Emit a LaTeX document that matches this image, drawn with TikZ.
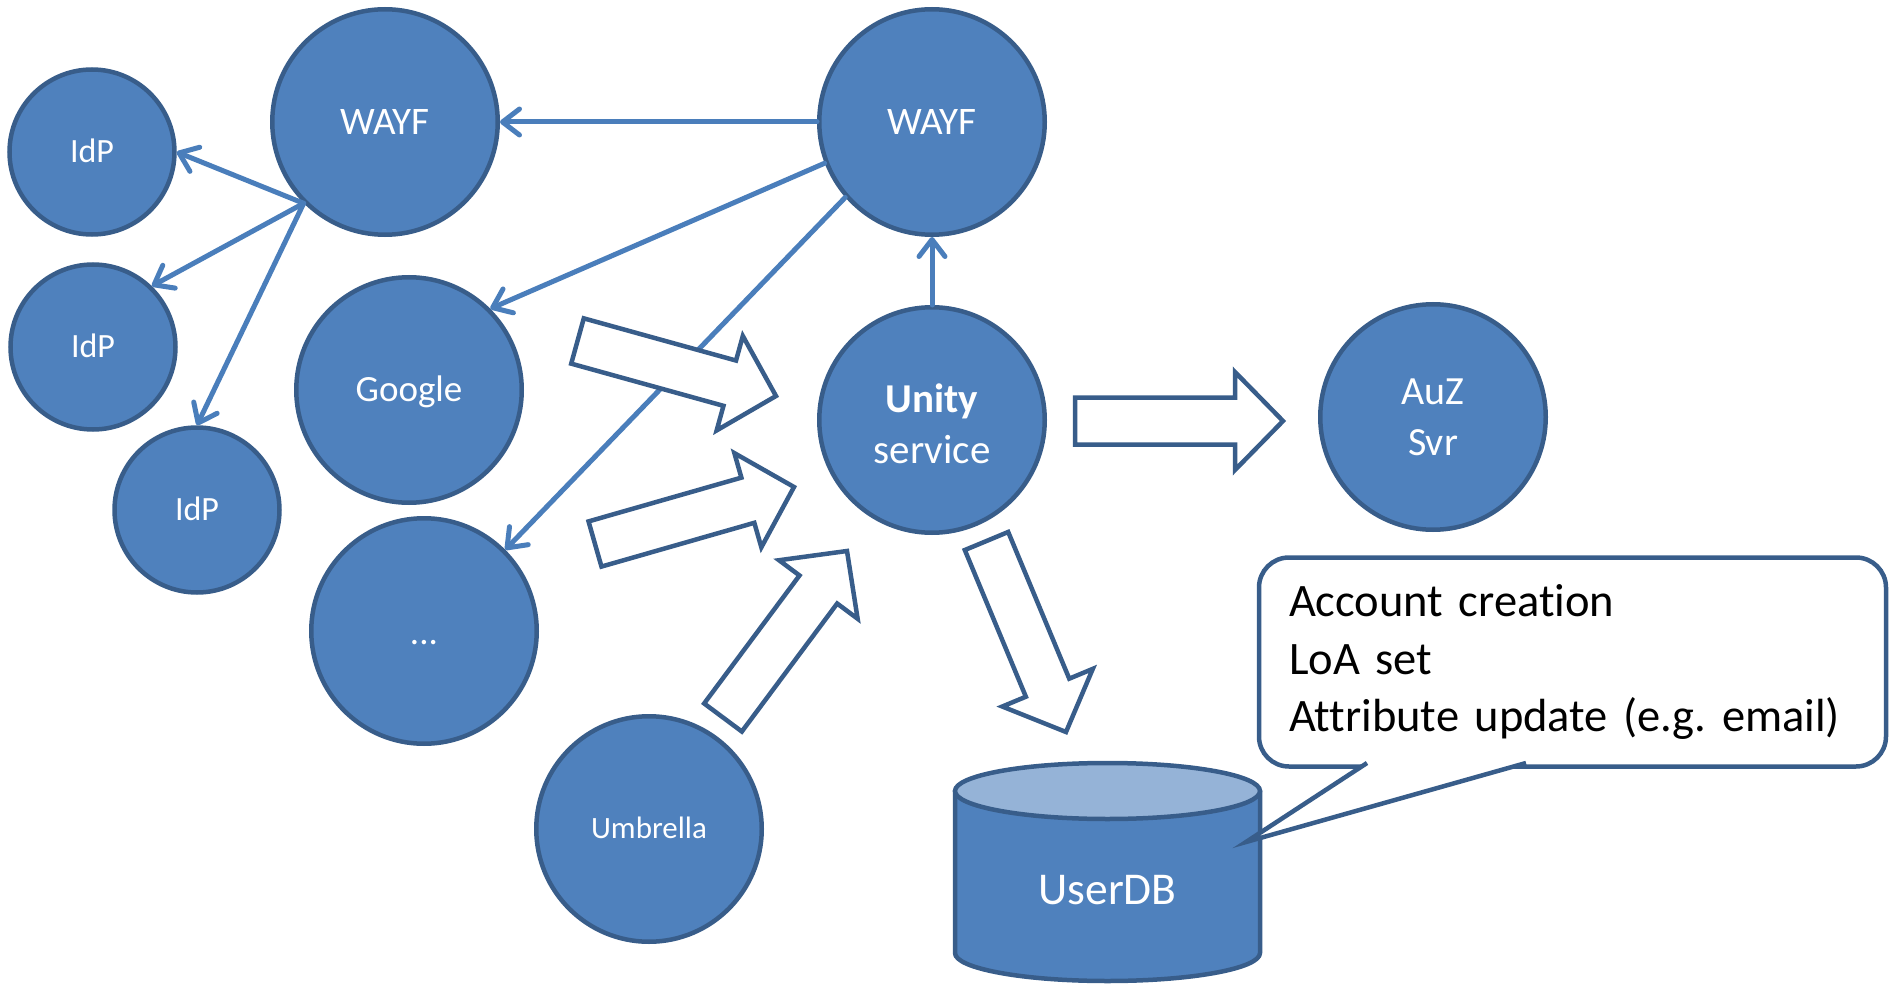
\documentclass[tikz,border=0pt]{standalone}
\usepackage{fontspec}
\setmainfont{Carlito}[Ligatures=NoCommon]
\usetikzlibrary{calc,arrows.meta}
\frenchspacing

\definecolor{nodefill}{HTML}{4F81BD}
\definecolor{nodeline}{HTML}{385D8A}
\definecolor{linkblue}{HTML}{4A7EBB}
\definecolor{dbtop}{HTML}{95B3D7}

\tikzset{
  entity/.style={circle, fill=nodefill, draw=nodeline, line width=4.5pt,
    inner sep=0pt, text=white},
  big/.style={minimum size=225.5pt},
  small/.style={minimum size=165pt},
  % single-line label whose capitals are centred on the node
  capline/.style={font={\fontsize{#1}{#1}\selectfont},
    text height=0.644*#1pt, text depth=0pt},
  link/.style={draw=linkblue, line width=5pt, line cap=round,
    -{Straight Barb[length=17pt,width=26pt,round]}},
  blockarrow/.style={draw=nodeline, fill=white, line width=4.5pt},
  callout/.style={rectangle, rounded corners=30pt, draw=nodeline, fill=white,
    line width=4.5pt, minimum width=627pt, minimum height=209pt,
    text width=567pt, inner xsep=30pt, align=left,
    font={\fontsize{46.5}{57.5}\selectfont}},
}

% hollow block arrow from tail #2 to tip #3
\newcommand\BlockArrow[3]{%
  \path ($(#3)!48pt!(#2)$) coordinate (#1-base);
  \draw[blockarrow]
    ($(#2)!23.5pt!90:(#3)$) -- ($(#1-base)!23.5pt!90:(#3)$)
    -- ($(#1-base)!49pt!90:(#3)$) -- (#3)
    -- ($(#1-base)!49pt!-90:(#3)$) -- ($(#1-base)!23.5pt!-90:(#3)$)
    -- ($(#2)!23.5pt!-90:(#3)$) -- cycle;
}

\begin{document}
\begin{tikzpicture}[x=1pt, y=-1pt]
\useasboundingbox (0,0) rectangle (1891,987);

% identity providers and discovery services
\node[entity, small, capline=34] (idp1) at (92,152) {IdP};
\node[entity, small, capline=34] (idp2) at (93,347) {IdP};
\node[entity, small, capline=34] (idp3) at (197,510) {IdP};
\node[entity, big, capline=39] (wayfL) at (385,122) {WAYF};
\node[entity, big, capline=39] (wayfR) at (932,122) {WAYF};
\node[entity, big, capline=37] (google) at (409,390) {Google};
\node[entity, big, capline=37, text height=27pt] (more) at (424,631) {...};
\node[entity, big, capline=31] (umbrella) at (649,829) {Umbrella};
\node[entity, big, align=center, font={\fontsize{41}{51}\selectfont}] (unity) at (932,420)
  {\rule{0pt}{36pt}\textbf{Unity}\\service};
\node[entity, big, align=center, font={\fontsize{40}{51}\selectfont}] (auz) at (1433,417) {AuZ\\Svr};

% redirections
\draw[link] (wayfR.west) -- (wayfL.east);
\draw[link] (wayfR.201) -- (google.45);
\draw[link] (wayfR.221) -- (more.45);
\draw[link] (wayfL.225) -- (idp1.east);
\draw[link] (wayfL.225) -- (idp2.46);
\draw[link] (wayfL.225) -- (idp3.north);
\draw[link] (unity.north) -- (wayfR.south);

% data flows into and out of the service
\coordinate (a1t) at (577.5,341);  \coordinate (a1h) at (776,396);
\coordinate (a2t) at (595,544);    \coordinate (a2h) at (794,487);
\coordinate (a3t) at (723,717.5);  \coordinate (a3h) at (847,551);
\coordinate (a4t) at (986.5,541);  \coordinate (a4h) at (1066,732);
\coordinate (a5t) at (1075,421);   \coordinate (a5h) at (1283,421);
\BlockArrow{a1}{a1t}{a1h}
\BlockArrow{a2}{a2t}{a2h}
\BlockArrow{a3}{a3t}{a3h}
\BlockArrow{a4}{a4t}{a4h}
\BlockArrow{a5}{a5t}{a5h}

% user database cylinder
\filldraw[fill=nodefill, draw=nodeline, line width=4.5pt, line join=round]
  (955,791) -- (955,953)
  .. controls (955,968.5) and (1023.3,981) .. (1107.5,981)
  .. controls (1191.7,981) and (1260,968.5) .. (1260,953)
  -- (1260,791) -- cycle;
\filldraw[fill=dbtop, draw=nodeline, line width=4.5pt] (1107.5,791) ellipse [x radius=152.5, y radius=28];
\node[capline=45.5, text=white] (userdb) at (1107.5,889.5) {UserDB};

% note attached to the database
\node[callout] (note) at (1572.5,662) {Account creation\\LoA set\\Attribute update (e.g. email)};
\coordinate (tipL) at (1367,763);
\coordinate (tipR) at (1526,763);
\coordinate (tip) at (1246,842);
\fill[white] ($(tipL)+(2,-5)$) -- (tipL) -- (tip) -- (tipR) -- ($(tipR)+(-2,-5)$) -- cycle;
\draw[draw=nodeline, line width=4.5pt] (tipL) -- (tip) -- (tipR);
\end{tikzpicture}
\end{document}
